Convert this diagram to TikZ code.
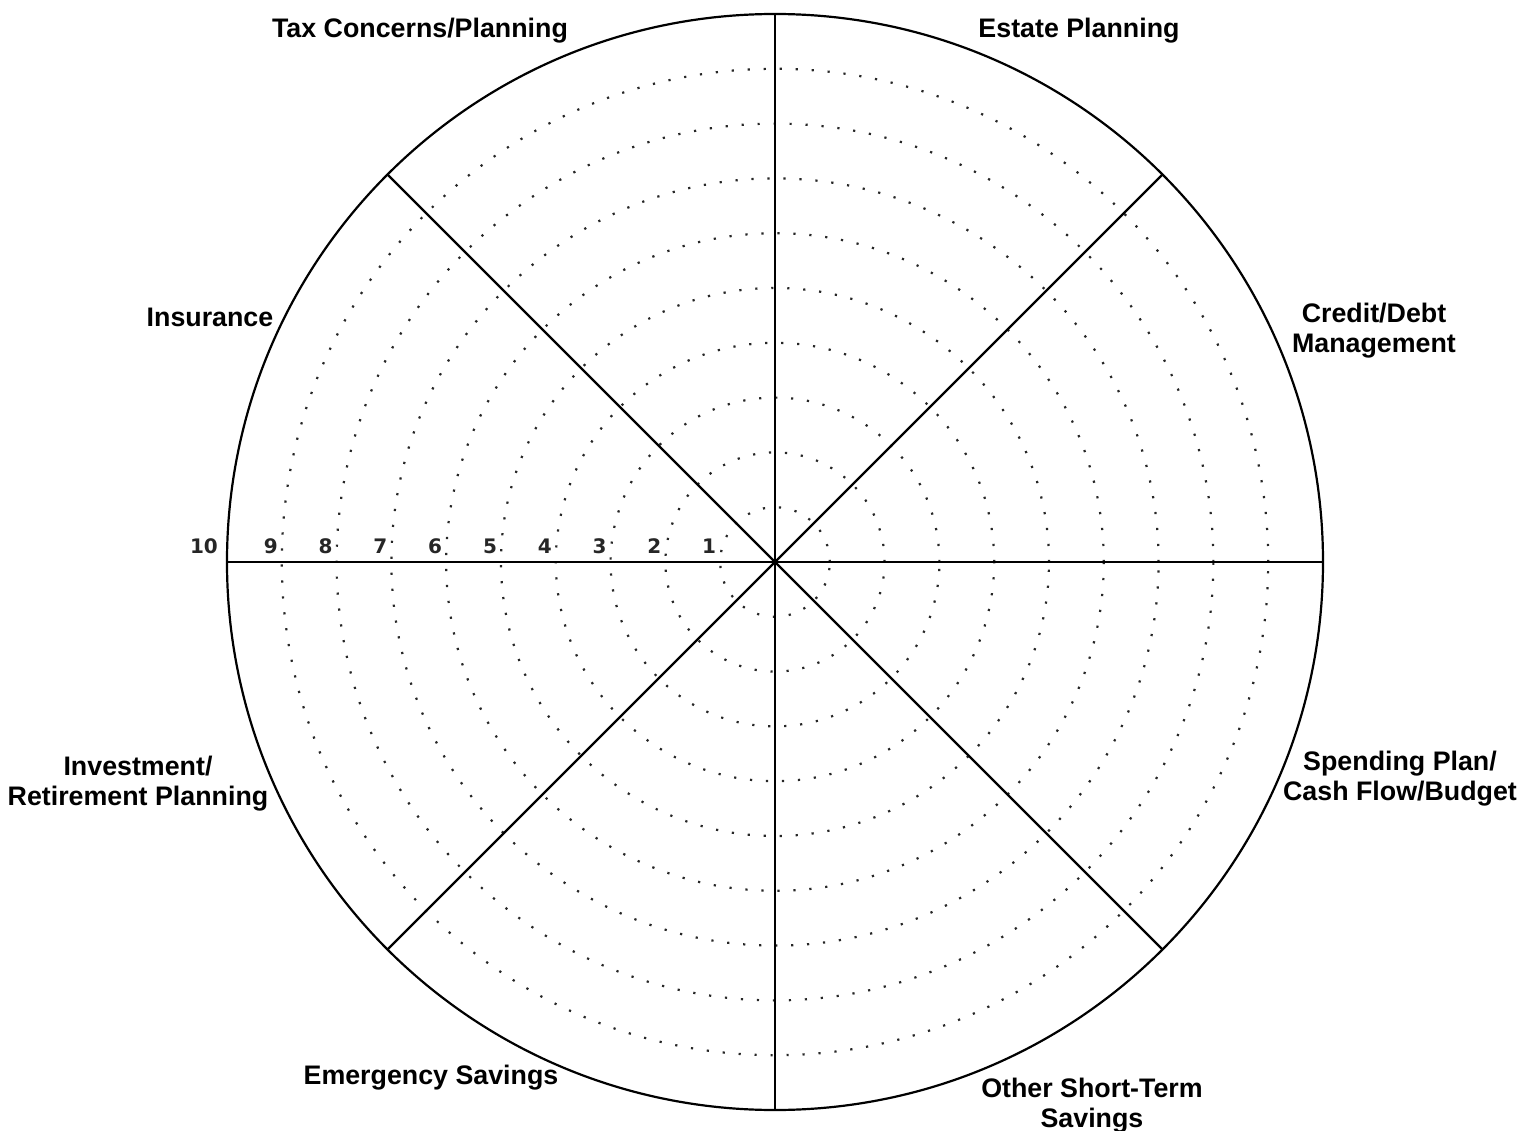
\documentclass[tikz,border=0pt]{standalone}
\usepackage{fontspec}
\setmainfont{Liberation Sans}
\newfontfamily\digitfont{DejaVu Sans}
\begin{document}
\begin{tikzpicture}[x=0.5pt,y=0.5pt]
        \tikzset{area/.style = {font=\fontsize{13.4}{15}\selectfont\bfseries, align=center, inner sep=0pt},
                 ring/.style = {line width=1.1pt, black!85, dash pattern=on 1.1pt off 6.9pt},
                 score/.style = {font=\digitfont\fontsize{10}{11}\selectfont\bfseries, text=black!85, inner sep=0pt},
                 spoke/.style = {line width=1.1pt}}
        \useasboundingbox (-775,-568) rectangle (745,562);
        \coordinate (O) at (0,0);
        
        \foreach \r in {1,...,9}
            \draw[ring] (O) circle[radius=54.8*\r];
        \node (wheel) at (O) [circle, draw, line width=1.1pt, minimum size=548pt, inner sep=0pt, outer sep=0pt] {};
        
        \draw[spoke] (wheel.180) -- (wheel.0);
        \draw[spoke] (wheel.90) -- (wheel.270);
        \draw[spoke] (wheel.135) -- (wheel.315);
        \draw[spoke] (wheel.45) -- (wheel.225);
        
        \foreach \r in {1,...,9}
            \node[score] (s\r) at (-54.8*\r-11,16) {\r};
        \node[score] (s10) at (-571,16) {10};
        
        \node[area] (tax) at (-355,531) {Tax Concerns/Planning};
        \node[area] (estate) at (304,531) {Estate Planning};
        \node[area] (insurance) at (-565,245) {Insurance};
        \node[area] (credit) at (599,231) {Credit/Debt\\Management};
        \node[area] (spending) at (625,-217) {Spending Plan/\\Cash Flow/Budget};
        \node[area] (invest) at (-637,-222) {Investment/\\Retirement Planning};
        \node[area] (emergency) at (-344,-516) {Emergency Savings};
        \node[area] (shortterm) at (317,-544) {Other Short-Term\\Savings};
\end{tikzpicture}
\end{document}
